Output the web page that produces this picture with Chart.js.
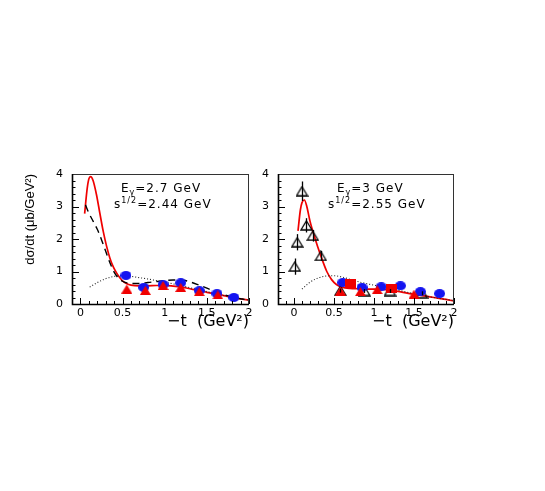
<!DOCTYPE html>
<html><head><meta charset="utf-8">
<script src="https://cdn.jsdelivr.net/npm/chart.js@4/dist/chart.umd.min.js"></script>
<style>
html,body{margin:0;padding:0;background:#fff;width:545px;height:491px;overflow:hidden;}
.box{position:absolute;}
</style></head><body>
<div class="box" style="left:0px;top:150px;"><canvas id="c1" width="262" height="190"></canvas></div>
<div class="box" style="left:262px;top:150px;"><canvas id="c2" width="283" height="190"></canvas></div>
<script>
// ---- tick labels ----
const xTickLabels = [0, 0.5, 1, 1.5, 2];
const yTickLabels = [0, 1, 2, 3, 4];

// ---- Left panel: E_gamma = 2.7 GeV ----
const leftBlueT = [0.54, 0.75, 0.98, 1.19, 1.41, 1.62, 1.82];
const leftBlueY = [0.88, 0.51, 0.60, 0.65, 0.41, 0.32, 0.20];
const leftRedTriT = [0.55, 0.77, 0.98, 1.19, 1.41, 1.63];
const leftRedTriY = [0.46, 0.42, 0.57, 0.51, 0.38, 0.28];
const leftSolidT = [0.05,0.08,0.10,0.12,0.15,0.19,0.23,0.27,0.31,0.35,0.39,0.43,0.47,0.51,0.55,0.60,0.70,0.80,0.90,1.00,1.10,1.20,1.30,1.40,1.50,1.60,1.70,1.80,1.90,2.00];
const leftSolidY = [2.78,3.55,3.85,3.92,3.80,3.37,2.80,2.24,1.78,1.41,1.14,0.95,0.80,0.69,0.62,0.58,0.56,0.56,0.57,0.57,0.55,0.52,0.47,0.41,0.36,0.31,0.26,0.20,0.16,0.12];
const leftDashT = [0.06,0.10,0.15,0.20,0.25,0.30,0.35,0.40,0.45,0.50,0.55,0.60,0.70,0.80,0.90,1.00,1.10,1.20,1.30,1.40,1.50,1.60,1.70,1.80,1.90,2.00];
const leftDashY = [3.05,2.80,2.55,2.30,1.98,1.62,1.27,0.98,0.80,0.70,0.65,0.63,0.63,0.66,0.69,0.72,0.74,0.74,0.68,0.59,0.49,0.38,0.29,0.22,0.16,0.12];
const leftDotT = [0.11,0.20,0.30,0.40,0.50,0.60,0.70,0.80,0.90,1.00,1.10,1.20,1.30,1.40,1.50,1.60,1.70,1.80,1.90,2.00];
const leftDotY = [0.52,0.66,0.78,0.85,0.87,0.85,0.81,0.77,0.72,0.67,0.62,0.56,0.50,0.44,0.38,0.32,0.26,0.21,0.16,0.12];

// ---- Right panel: E_gamma = 3 GeV ----
const rightBlueT = [0.61, 0.85, 1.09, 1.33, 1.58, 1.82];
const rightBlueY = [0.66, 0.51, 0.53, 0.56, 0.38, 0.32];
const rightRedTriT = [0.58, 0.83, 1.04, 1.50];
const rightRedTriY = [0.40, 0.38, 0.44, 0.30];
const rightRedSqT = [0.71, 1.22];
const rightRedSqY = [0.62, 0.49];
const rightOpenT = [0.01, 0.04, 0.10, 0.155, 0.235, 0.335, 0.58, 0.88, 1.20, 1.60];
const rightOpenY = [1.15, 1.90, 3.47, 2.42, 2.10, 1.48, 0.41, 0.40, 0.40, 0.33];
const rightOpenErr = [0.25, 0.25, 0.30, 0.22, 0.18, 0.15, 0.06, 0.06, 0.06, 0.06];
const rightSolidT = [0.05,0.08,0.10,0.13,0.16,0.20,0.26,0.33,0.41,0.47,0.53,0.60,0.70,0.80,0.90,1.00,1.10,1.20,1.30,1.40,1.50,1.60,1.70,1.80,1.90,2.00];
const rightSolidY = [2.25,2.90,3.12,3.20,3.00,2.55,2.04,1.52,1.00,0.75,0.60,0.52,0.48,0.47,0.46,0.46,0.45,0.43,0.39,0.34,0.30,0.26,0.22,0.18,0.14,0.09];
const rightDotT = [0.10,0.20,0.30,0.40,0.50,0.60,0.70,0.80,0.90,1.00,1.10,1.20,1.30,1.40,1.50,1.60,1.70,1.80,1.90,2.00];
const rightDotY = [0.46,0.67,0.80,0.86,0.87,0.83,0.76,0.69,0.63,0.58,0.53,0.48,0.43,0.37,0.32,0.27,0.22,0.18,0.14,0.11];

const pts = (T, Y) => T.map((t, i) => ({x: t, y: Y[i]}));

// ---- marker images ----
function mk(w, h, draw) { const c = document.createElement('canvas'); c.width = w; c.height = h; draw(c.getContext('2d'), w, h); return c; }
const blueDot = mk(11, 9, (g, w, h) => { g.fillStyle = '#1414f0'; g.beginPath(); g.ellipse(w/2, h/2, w/2, h/2, 0, 0, 2*Math.PI); g.fill(); });
const redTri = mk(11, 9, (g, w, h) => { g.fillStyle = '#f00000'; g.beginPath(); g.moveTo(w/2, 0); g.lineTo(w, h); g.lineTo(0, h); g.closePath(); g.fill(); });
const redSq = mk(11, 9, (g, w, h) => { g.fillStyle = '#f00000'; g.fillRect(0, 0, w, h); });
const openTri = mk(13, 11, (g, w, h) => { g.strokeStyle = '#000'; g.lineWidth = 1.3; g.beginPath(); g.moveTo(w/2, 1); g.lineTo(w - 1, h - 1); g.lineTo(1, h - 1); g.closePath(); g.stroke(); });

const TICK_FONT = {family: '"DejaVu Sans", sans-serif', size: 11};

// frame + inward ticks
const frameTicks = {
  id: 'frameTicks',
  afterDraw(chart) {
    const {ctx, chartArea: a, scales: {x, y}} = chart;
    ctx.save();
    ctx.strokeStyle = '#000';
    ctx.lineWidth = 1;
    ctx.beginPath();
    for (let k = Math.ceil(x.min * 10 - 1e-9); k <= Math.floor(x.max * 10 + 1e-9); k++) {
      const px = Math.round(x.getPixelForValue(k / 10)) + 0.5;
      const len = (k % 5 === 0) ? 6 : 3;
      ctx.moveTo(px, a.bottom); ctx.lineTo(px, a.bottom - len);
    }
    for (let k = Math.ceil(y.min * 5 - 1e-9); k <= Math.floor(y.max * 5 + 1e-9); k++) {
      const py = Math.round(y.getPixelForValue(k / 5)) + 0.5;
      const len = (k % 5 === 0) ? 7 : 3.5;
      ctx.moveTo(a.left, py); ctx.lineTo(a.left + len, py);
    }
    ctx.stroke();
    ctx.strokeStyle = '#333';
    ctx.strokeRect(Math.round(a.left) + 0.5, Math.round(a.top) + 0.5, Math.round(a.right - a.left) - 1, Math.round(a.bottom - a.top));
    ctx.strokeStyle = '#000';
    ctx.lineWidth = 1.6;
    ctx.beginPath();
    ctx.moveTo(Math.round(a.left) + 0.5, a.top); ctx.lineTo(Math.round(a.left) + 0.5, a.bottom + 0.5);
    ctx.lineTo(a.right, a.bottom + 0.5);
    ctx.stroke();
    ctx.restore();
  }
};

// error bars for datasets that carry an errors array
const errorBars = {
  id: 'errorBars',
  afterDatasetsDraw(chart) {
    const {ctx, scales: {x, y}} = chart;
    ctx.save();
    ctx.strokeStyle = '#000';
    ctx.lineWidth = 1.3;
    chart.data.datasets.forEach(ds => {
      if (!ds.errors) return;
      ds.data.forEach((p, i) => {
        const px = Math.round(x.getPixelForValue(p.x)) + 0.5;
        ctx.beginPath();
        ctx.moveTo(px, y.getPixelForValue(p.y + ds.errors[i]));
        ctx.lineTo(px, y.getPixelForValue(p.y - ds.errors[i]));
        ctx.stroke();
      });
    });
    ctx.restore();
  }
};

// rich text annotation (subscripts / superscripts)
const annot = {
  id: 'annot',
  afterDraw(chart, args, opts) {
    const ctx = chart.ctx;
    ctx.save();
    ctx.fillStyle = '#000';
    ctx.textBaseline = 'alphabetic';
    ctx.textAlign = 'left';
    try { ctx.letterSpacing = '1px'; } catch (e) {}
    (opts.lines || []).forEach(line => {
      let x = line.x;
      line.parts.forEach(p => {
        const size = p.s ? 8 : 12;
        ctx.font = size + 'px "DejaVu Sans", sans-serif';
        const dy = p.s === 'sub' ? 3 : (p.s === 'sup' ? -5 : 0);
        ctx.fillText(p.t, x, line.y + dy);
        x += ctx.measureText(p.t).width;
      });
    });
    ctx.restore();
  }
};

function makeChart(id, cfg) {
  const xmin = cfg.xmin;
  return new Chart(document.getElementById(id), {
    type: 'scatter',
    data: {datasets: cfg.datasets},
    options: {
      responsive: false,
      animation: false,
      events: [],
      layout: {autoPadding: false, padding: {left: 0, top: 24, right: cfg.padRight, bottom: 0}},
      plugins: {legend: {display: false}, tooltip: {enabled: false}, annot: {lines: cfg.lines}},
      scales: {
        x: {
          type: 'linear', min: xmin, max: 2,
          grid: {display: false, drawTicks: false},
          border: {display: false},
          afterBuildTicks: s => { s.ticks = xTickLabels.map(v => ({value: v})); },
          afterFit: s => { s.height = 36; s.paddingLeft = 0; s.paddingRight = 0; },
          ticks: {font: TICK_FONT, color: '#000', padding: 3, maxRotation: 0, autoSkip: false, callback: v => String(v)},
          title: {display: true, text: '\u2212t  (GeV\u00B2)', align: 'end', color: '#000',
                  font: {family: '"DejaVu Sans", sans-serif', size: 16}, padding: {top: 0, bottom: 9}}
        },
        y: {
          type: 'linear', min: 0, max: 4,
          grid: {display: false, drawTicks: false},
          border: {display: false},
          afterBuildTicks: s => { s.ticks = yTickLabels.map(v => ({value: v})); },
          afterFit: s => { s.width = cfg.yWidth; },
          ticks: {font: TICK_FONT, color: '#000', padding: 9, callback: v => String(v)},
          title: {display: cfg.yTitle, text: 'd\u03C3/dt (\u03BCb/GeV\u00B2)', align: 'end', color: '#000',
                  font: {family: '"Liberation Sans", Arial, sans-serif', size: 13}, padding: {top: 23, bottom: 0}}
        }
      }
    },
    plugins: [frameTicks, errorBars, annot]
  });
}

const lineDs = (data, color, width, dash) => ({type: 'line', data, showLine: true, borderColor: color, borderWidth: width,
  borderDash: dash, pointRadius: 0, fill: false, cubicInterpolationMode: 'monotone', order: 2});
const markDs = (data, style) => ({data, pointStyle: style, pointRadius: 6, showLine: false, order: 1});

makeChart('c1', {
  xmin: -0.1, padRight: 13, yWidth: 72, yTitle: true,
  datasets: [
    lineDs(pts(leftDotT, leftDotY), '#222', 1.1, [1, 2]),
    lineDs(pts(leftDashT, leftDashY), '#000', 1.4, [7, 5]),
    lineDs(pts(leftSolidT, leftSolidY), '#f00000', 1.7, []),
    markDs(pts(leftRedTriT, leftRedTriY), redTri),
    markDs(pts(leftBlueT, leftBlueY), blueDot)
  ],
  lines: [
    {x: 121, y: 42, parts: [{t: 'E'}, {t: '\u03B3', s: 'sub'}, {t: '=2.7 GeV'}]},
    {x: 114, y: 57.5, parts: [{t: 's'}, {t: '1/2', s: 'sup'}, {t: '=2.44 GeV'}]}
  ]
});

makeChart('c2', {
  xmin: -0.2, padRight: 91, yWidth: 16, yTitle: false,
  datasets: [
    lineDs(pts(rightDotT, rightDotY), '#222', 1.1, [1, 2]),
    lineDs(pts(rightSolidT, rightSolidY), '#f00000', 1.7, []),
    markDs(pts(rightRedTriT, rightRedTriY), redTri),
    markDs(pts(rightRedSqT, rightRedSqY), redSq),
    markDs(pts(rightBlueT, rightBlueY), blueDot),
    Object.assign(markDs(pts(rightOpenT, rightOpenY), openTri), {errors: rightOpenErr})
  ],
  lines: [
    {x: 75, y: 42, parts: [{t: 'E'}, {t: '\u03B3', s: 'sub'}, {t: '=3 GeV'}]},
    {x: 66, y: 57.5, parts: [{t: 's'}, {t: '1/2', s: 'sup'}, {t: '=2.55 GeV'}]}
  ]
});
</script>
</body></html>
